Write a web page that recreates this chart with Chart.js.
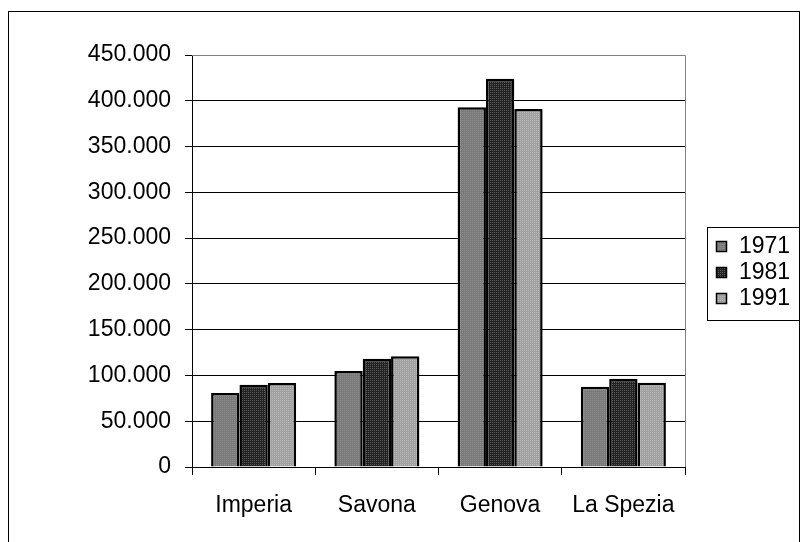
<!DOCTYPE html>
<html><head><meta charset="utf-8">
<script src="https://cdn.jsdelivr.net/npm/chart.js@4.4.0/dist/chart.umd.min.js"></script>
<style>
html,body{margin:0;padding:0;background:#fff;}
#wrap{position:relative;width:800px;height:542px;}
#frame{position:absolute;left:8px;top:11px;width:790px;height:530px;border:1px solid #000;box-sizing:content-box;pointer-events:none;}
canvas{position:absolute;left:0;top:0;}
</style></head>
<body>
<div id="wrap"><canvas id="c" width="800" height="542"></canvas><div id="frame"></div></div>
<script>
const categories = ["Imperia", "Savona", "Genova", "La Spezia"];
const seriesNames = ["1971", "1981", "1991"];
const values1971 = [80800, 104800, 393000, 87700];
const values1981 = [89900, 118300, 424000, 96400];
const values1991 = [91700, 120900, 391000, 92000];
const yTicks = [0, 50000, 100000, 150000, 200000, 250000, 300000, 350000, 400000, 450000];

function makePattern(base, dot, step) {
  const c = document.createElement('canvas');
  c.width = step; c.height = step;
  const x = c.getContext('2d');
  x.fillStyle = base; x.fillRect(0, 0, step, step);
  x.fillStyle = dot; x.fillRect(0, 0, 1, 1);
  return x.createPattern(c, 'repeat');
}
const ctx0 = document.getElementById('c').getContext('2d');
const fills = [
  makePattern('#7a7a7a', '#8e8e8e', 2),
  makePattern('#222222', '#5a5a5a', 2),
  makePattern('#a0a0a0', '#bababa', 2)
];
const FONT = {family: '"Liberation Sans", Arial, sans-serif', size: 23};

function fmt(v) {
  return v === 0 ? '0' : v.toLocaleString('it-IT').replace(/,/g, '.');
}

const framePlugin = {
  id: 'frameP',
  afterDraw(chart) {
    const {ctx, chartArea: a} = chart;
    ctx.save();
    ctx.strokeStyle = '#808080'; ctx.lineWidth = 1;
    ctx.beginPath();
    ctx.moveTo(a.left, a.top + 0.5); ctx.lineTo(a.right + 0.5, a.top + 0.5);
    ctx.lineTo(a.right + 0.5, a.bottom);
    ctx.stroke();
    // legend
    const lx = 707, ly = 227, lw = 92, lh = 93;
    ctx.strokeStyle = '#000';
    ctx.strokeRect(lx + 0.5, ly + 0.5, lw, lh);
    ctx.font = FONT.size + 'px ' + FONT.family;
    ctx.textBaseline = 'middle';
    chart.data.datasets.forEach((ds, i) => {
      const cy = 246 + i * 26;
      ctx.fillStyle = ds.backgroundColor;
      ctx.fillRect(716, cy - 5, 10, 10);
      ctx.strokeStyle = '#000';
      ctx.lineWidth = 1.5;
      ctx.strokeRect(716.5, cy - 4.5, 10, 10);
      ctx.fillStyle = '#000';
      ctx.fillText(ds.label, 739, cy + 1);
    });
    ctx.restore();
  }
};

const datasets = [values1971, values1981, values1991].map((vals, i) => ({
  label: seriesNames[i],
  data: vals,
  backgroundColor: fills[i],
  borderColor: '#000',
  borderWidth: 2.5,
  borderSkipped: 'bottom',
  barPercentage: 1.0,
  categoryPercentage: 0.69
}));

new Chart(document.getElementById('c'), {
  type: 'bar',
  data: {labels: categories, datasets},
  options: {
    responsive: false,
    animation: false,
    layout: {padding: {left: 0, right: 115, top: 55, bottom: 0}},
    plugins: {legend: {display: false}, tooltip: {enabled: false}},
    scales: {
      x: {
        afterFit(s) { s.height = 75; },
        grid: {drawOnChartArea: false, drawTicks: true, tickLength: 8, color: '#000', offset: true},
        border: {color: '#000', width: 1},
        ticks: {color: '#000', font: FONT, padding: 17, maxRotation: 0}
      },
      y: {
        min: 0, max: 450000,
        afterFit(s) { s.width = 192; },
        afterBuildTicks(s) { s.ticks = yTicks.map(v => ({value: v})); },
        grid: {color: '#000', tickLength: 7, drawTicks: true},
        border: {color: '#000', width: 1},
        ticks: {color: '#000', font: FONT, padding: 14, callback: v => fmt(v)}
      }
    }
  },
  plugins: [framePlugin]
});
</script>
</body></html>
